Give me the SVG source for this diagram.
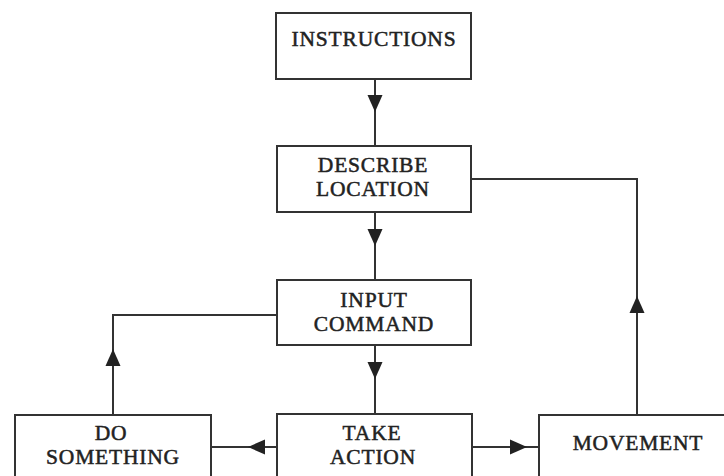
<svg xmlns="http://www.w3.org/2000/svg" width="724" height="476" viewBox="0 0 724 476">
  <style>
    .box { fill: #ffffff; stroke: #333333; stroke-width: 2; }
    .lbl { font-family: "Liberation Serif", "DejaVu Serif", serif; font-size: 21.5px; letter-spacing: 0.8px; fill: #222222; stroke: #222222; stroke-width: 0.5; text-anchor: middle; }
    .wire { fill: none; stroke: #333333; stroke-width: 2; }
    .head { fill: #222222; }
  </style>
  <defs>
    <!-- downward-pointing arrowhead, tip at origin -->
    <path id="ah" d="M0 0 L-7.5 -17 L7.5 -17 Z"/>
  </defs>
  <rect width="724" height="476" fill="#ffffff"/>

  <g id="connectors">
    <line class="wire" x1="375" y1="79" x2="375" y2="146"/>
    <use href="#ah" class="head" transform="translate(375 112)"/>

    <line class="wire" x1="375" y1="212" x2="375" y2="280"/>
    <use href="#ah" class="head" transform="translate(375 246)"/>

    <line class="wire" x1="375" y1="345" x2="375" y2="414"/>
    <use href="#ah" class="head" transform="translate(375 379)"/>

    <line class="wire" x1="277" y1="447" x2="211" y2="447"/>
    <use href="#ah" class="head" transform="translate(248 447) rotate(90)"/>

    <line class="wire" x1="472" y1="447" x2="539" y2="447"/>
    <use href="#ah" class="head" transform="translate(527 447) rotate(-90)"/>

    <polyline class="wire" points="113,415 113,315 277,315"/>
    <use href="#ah" class="head" transform="translate(113 349) rotate(180)"/>

    <polyline class="wire" points="637,415 637,179 471,179"/>
    <use href="#ah" class="head" transform="translate(637 296) rotate(180)"/>
  </g>

  <g id="instructions">
    <rect class="box" x="276" y="13" width="195" height="66"/>
    <text class="lbl" x="374" y="46">INSTRUCTIONS</text>
  </g>

  <g id="describe-location">
    <rect class="box" x="277" y="146" width="194" height="66"/>
    <text class="lbl" x="373" y="172">DESCRIBE</text>
    <text class="lbl" x="373" y="196">LOCATION</text>
  </g>

  <g id="input-command">
    <rect class="box" x="277" y="280" width="194" height="65"/>
    <text class="lbl" x="374" y="307">INPUT</text>
    <text class="lbl" x="374" y="331">COMMAND</text>
  </g>

  <g id="do-something">
    <rect class="box" x="15" y="415" width="196" height="80"/>
    <text class="lbl" x="111" y="440">DO</text>
    <text class="lbl" x="113" y="464">SOMETHING</text>
  </g>

  <g id="take-action">
    <rect class="box" x="277" y="414" width="195" height="80"/>
    <text class="lbl" x="372" y="440">TAKE</text>
    <text class="lbl" x="373" y="464">ACTION</text>
  </g>

  <g id="movement">
    <rect class="box" x="539" y="415" width="200" height="80"/>
    <text class="lbl" x="638" y="450">MOVEMENT</text>
  </g>
</svg>
